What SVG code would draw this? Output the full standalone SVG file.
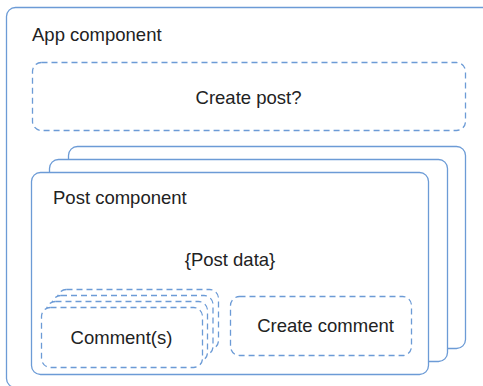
<svg xmlns="http://www.w3.org/2000/svg" width="483" height="386" viewBox="0 0 483 386">
  <style>
    .solid { fill: #ffffff; stroke: #6c9bd6; stroke-width: 1.3; }
    .dash { fill: #ffffff; stroke: #6c9bd6; stroke-width: 1.3; stroke-dasharray: 6 4; }
    .lbl { font-family: "Liberation Sans", Arial, sans-serif; font-size: 18.5px; fill: #222222; }
    .mid { text-anchor: middle; }
  </style>
  <rect width="483" height="386" fill="#ffffff"/>
  <g id="app">
    <rect class="solid" x="6.5" y="7.5" width="490" height="380" rx="9"/>
    <text class="lbl" x="32" y="41">App component</text>
  </g>
  <g id="create-post">
    <rect class="dash" x="32.5" y="62.5" width="433" height="68" rx="9"/>
    <text class="lbl mid" x="248.5" y="103.5">Create post?</text>
  </g>
  <g id="post">
    <rect class="solid" x="68.5" y="146.5" width="397" height="202" rx="9"/>
    <rect class="solid" x="49.5" y="159.5" width="398" height="202" rx="9"/>
    <rect class="solid" x="31.5" y="172.5" width="397" height="202" rx="9"/>
    <text class="lbl" x="53" y="204">Post component</text>
    <text class="lbl mid" x="230" y="266">{Post data}</text>
  </g>
  <g id="comments">
    <rect class="dash" x="57.5" y="289.5" width="161" height="60" rx="9"/>
    <rect class="dash" x="52" y="295.5" width="161" height="60" rx="9"/>
    <rect class="dash" x="46.5" y="301.5" width="161" height="60" rx="9"/>
    <rect class="dash" x="41.5" y="307.5" width="161" height="60" rx="9"/>
    <text class="lbl mid" x="121.5" y="344">Comment(s)</text>
  </g>
  <g id="create-comment">
    <rect class="dash" x="230.5" y="296.5" width="181" height="59" rx="9"/>
    <text class="lbl mid" x="325.5" y="332">Create comment</text>
  </g>
  <g id="connectors"></g>
</svg>
